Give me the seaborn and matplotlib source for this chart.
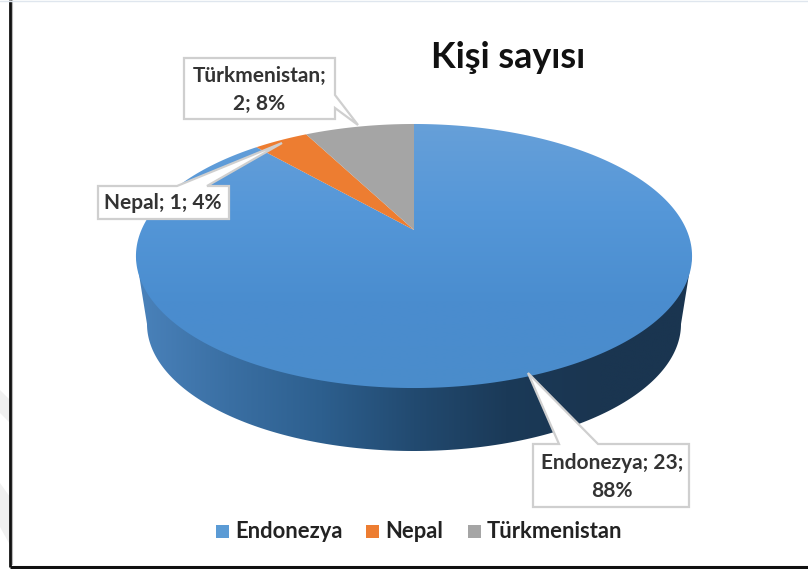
#! /usr/bin/env python3
# -*- coding: utf-8 -*-

import numpy as np
import seaborn as sns
import matplotlib
matplotlib.use('Agg')
import matplotlib.pyplot as plt
from matplotlib.patches import Polygon, Rectangle
from matplotlib.transforms import Affine2D

# Data
categories = ['Endonezya', 'Nepal', 'Türkmenistan']
counts = [23, 1, 2]
percents = ['88%', '4%', '8%']
colors = sns.color_palette(['#5b9bd5', '#ed7d31', '#a5a5a5'])

sns.set_style('white')
plt.rcParams['font.family'] = ['Lato', 'DejaVu Sans']

W, H = 808, 569
APEX_X, APEX_Y = 414, 230  # where the slices meet
A, B, K = 272.6, 126.9, 0.197  # excel style perspective of the disc


def project(pts):
    '''Unit disc coords to pixels, front of the disc comes out bigger
    '''
    w = 1 + K*pts[:, 1]
    return np.column_stack([APEX_X + A*pts[:, 0]/w, APEX_Y - B*pts[:, 1]/w])


def gradient(ax, clip, stops, horizontal, extent):
    '''Draw a colour ramp clipped to a patch
    '''
    rgb = np.array([matplotlib.colors.to_rgb(s) for s in stops])
    pos = np.linspace(0, 1, 256)
    ramp = np.column_stack([np.interp(pos, np.linspace(0, 1, len(stops)), rgb[:, i]) for i in range(3)])
    img = ramp[np.newaxis, :, :] if horizontal else ramp[:, np.newaxis, :]
    im = ax.imshow(img, extent=extent, aspect='auto', origin='upper', zorder=clip.get_zorder(), interpolation='bilinear')
    im.set_clip_path(clip)


fig = plt.figure(figsize=(W/100, H/100), dpi=100)
ax = fig.add_axes([0, 0, 1, 1])

# The slices come from pie, then get pushed through the perspective
wedges, _ = ax.pie(counts, startangle=90, counterclock=False, colors=colors)
slices = []
for wedge in wedges:
    # scale up first, flattening works in pixel sized steps
    big = wedge.get_patch_transform() + Affine2D().scale(2000)
    verts = wedge.get_path().to_polygons(big, closed_only=True)[0]/2000
    wedge.remove()
    slices.append(project(verts))

ax.set_aspect('auto')
ax.set_xlim(0, W)
ax.set_ylim(H, 0)
ax.axis('off')

# Faint watermark left of the frame
ax.add_patch(Polygon([(0, 390), (10, 400), (10, 423), (0, 413)], closed=True, fc='#f0f0f0', ec='none'))
ax.add_patch(Polygon([(0, 483), (10, 497), (10, 545), (0, 527)], closed=True, fc='#f0f0f0', ec='none'))

# Side wall
t = np.linspace(0, np.pi, 200)
rim = np.column_stack([414 + 267*np.cos(t), 324 + 127*np.sin(t)])
side = Polygon(np.vstack([[[692, 256]], rim, [[136, 256]]]), closed=True, fc='none', ec='none', zorder=1)
ax.add_patch(side)
gradient(ax, side, ['#4a82bb', '#3a6fa3', '#2d5f8e', '#224a70', '#1b3a58', '#1a3550', '#1a3550'], True, (136, 692, 460, 250))

# Top of the pie
for i, verts in enumerate(slices):
    patch = Polygon(verts, closed=True, fc=colors[i], ec='none', zorder=2)
    ax.add_patch(patch)
    if i == 0:
        patch.set_facecolor('none')
        gradient(ax, patch, ['#67a0d9', '#5597d8', '#4a8dcf', '#4a8ccb'], False, (130, 700, 392, 120))


def callout(box, side_idx, pts):
    '''White label box, pts is the pointer put in after corner side_idx
    '''
    x0, y0, x1, y1 = box
    corners = [(x0, y0), (x1, y0), (x1, y1), (x0, y1)]
    outline = corners[:side_idx] + pts + corners[side_idx:]
    ax.add_patch(Polygon(outline, closed=True, fc='white', ec='#cfcfcf', lw=1.6, zorder=3))


callout((184, 58, 335, 119), 2, [(335, 95), (358, 125), (335, 108)])
callout((98, 186, 229, 219), 1, [(177, 186), (282, 143), (207, 186)])
callout((533, 444, 689, 507), 1, [(559, 444), (528, 373), (598, 444)])

label_pos = [(612, 477), (163, 203), (259.5, 90)]
label_txt = [categories[0]+'; '+str(counts[0])+';\n'+percents[0],
             categories[1]+'; '+str(counts[1])+'; '+percents[1],
             categories[2]+';\n'+str(counts[2])+'; '+percents[2]]
for (x, y), txt in zip(label_pos, label_txt):
    ax.text(x, y, txt, ha='center', va='center', fontsize=15, fontweight='bold', color='#333333', zorder=4, linespacing=1.45)

ax.text(508, 57, 'Kişi sayısı', ha='center', va='center', fontsize=25.8, fontweight='bold', color='#111111')

# Legend
legend_x = [216, 366, 468]
for x, name, c in zip(legend_x, categories, colors):
    ax.add_patch(Rectangle((x, 525), 13, 13, fc=c, ec='none'))
    ax.text(x+19, 531, name, ha='left', va='center', fontsize=15.8, fontweight='bold', color='#222222')

# Frame of the screenshot
ax.plot([12, 12], [0, 565], color='#b8b8b8', lw=1.5, solid_capstyle='butt')
ax.plot([10, 10], [0, 567], color='#111111', lw=2, solid_capstyle='butt')
ax.plot([10, W], [566.5, 566.5], color='#111111', lw=2.2, solid_capstyle='butt')
ax.plot([0, W], [0.5, 0.5], color='#dfe6ee', lw=1)

fig.savefig('out.png', dpi=100)
